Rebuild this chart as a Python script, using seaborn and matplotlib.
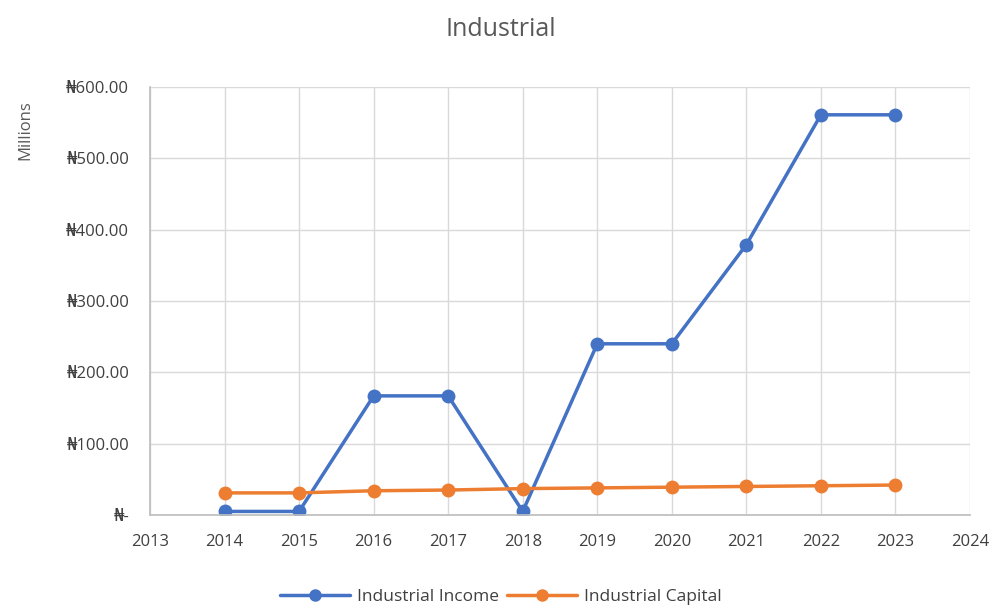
import matplotlib
matplotlib.use("Agg")
import matplotlib.pyplot as plt
import seaborn as sns
import pandas as pd
from matplotlib.ticker import FuncFormatter, MultipleLocator
from matplotlib.lines import Line2D

years = [2014, 2015, 2016, 2017, 2018, 2019, 2020, 2021, 2022, 2023]
income = [5, 5, 167, 167, 5, 240, 240, 379, 561, 561]
capital = [31, 31, 34, 35, 37, 38, 39, 40, 41, 42]
series_names = ["Industrial Income", "Industrial Capital"]
colors = ["#4472C4", "#ED7D31"]

sns.set_theme(style="white")
plt.rcParams['font.family'] = ['Open Sans', 'DejaVu Sans']

df = pd.DataFrame({
    "Year": years * 2,
    "Value": income + capital,
    "Series": [series_names[0]] * len(years) + [series_names[1]] * len(years),
})

fig = plt.figure(figsize=(10.02, 6.05), dpi=100)
ax = fig.add_axes([150/1002, 1 - 515/605, (970-150)/1002, (515-87)/605])

sns.lineplot(data=df, x="Year", y="Value", hue="Series", palette=colors,
             marker="o", markersize=10, markeredgewidth=0, linewidth=2.5,
             ax=ax, legend=False)

ax.set_xlim(2013, 2024)
ax.set_ylim(0, 600)
ax.xaxis.set_major_locator(MultipleLocator(1))
ax.yaxis.set_major_locator(MultipleLocator(100))
ax.yaxis.set_major_formatter(FuncFormatter(lambda v, p: "₦-" if v == 0 else f"₦{v:,.2f}"))
ax.grid(True, color="#D9D9D9", linewidth=1)
for s in ["top", "right"]:
    ax.spines[s].set_visible(False)
ax.spines["left"].set_color("#BFBFBF")
ax.spines["bottom"].set_color("#BFBFBF")
ax.tick_params(axis="x", labelsize=12, colors="#404040", length=0, pad=14)
ax.tick_params(axis="y", labelsize=12, labelcolor="#404040", length=5, color="#BFBFBF", pad=10)
ax.set_xlabel("")
ax.set_ylabel("")

fig.text(25/1002, 1 - 130/605, "Millions", rotation=90, ha="center", va="center",
         fontsize=12, color="#595959")
fig.text(0.5, 1 - 30/605, "Industrial", ha="center", va="center",
         fontsize=18, color="#595959")

handles = [Line2D([0], [0], color=c, lw=2.5, marker="o", markersize=9, markeredgewidth=0) for c in colors]
fig.legend(handles, series_names, loc="center", bbox_to_anchor=(0.5, 1 - 597/605),
           ncol=2, frameon=False, fontsize=12.5, handlelength=4.0, columnspacing=0.5,
           handletextpad=0.4, labelcolor="#404040", borderaxespad=0, borderpad=0)

fig.savefig("out.png", dpi=100)
